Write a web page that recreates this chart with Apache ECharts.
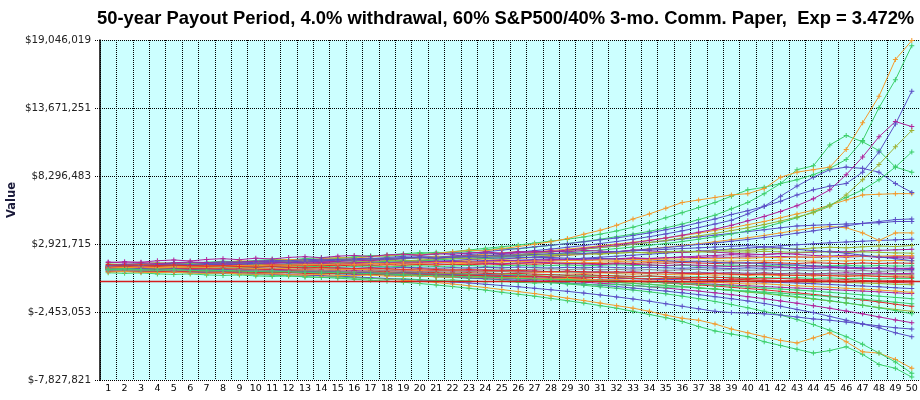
<!DOCTYPE html>
<html>
<head>
<meta charset="utf-8">
<title>50-year Payout Period</title>
<script src="https://cdn.jsdelivr.net/npm/echarts@6/dist/echarts.min.js"></script>
<style>
  html, body { margin: 0; padding: 0; background: #fff; }
  #chart { width: 920px; height: 400px; }
</style>
</head>
<body>
<div id="chart"></div>
<script>
// payout year (x axis categories)
const years = ['1','2','3','4','5','6','7','8','9','10','11','12','13','14','15','16','17','18','19','20',
  '21','22','23','24','25','26','27','28','29','30','31','32','33','34','35','36','37','38','39','40',
  '41','42','43','44','45','46','47','48','49','50'];

// y axis tick values in dollars
const yTicks = [-7827821, -2453053, 2921715, 8296483, 13671251, 19046019];

// portfolio value per run, in $ millions, years 1..50
// upper runs
const up1 = [1.15,1.22,1.30,1.28,1.36,1.45,1.42,1.50,1.58,1.55,1.63,1.70,1.66,1.75,1.84,1.80,1.92,2.01,2.10,2.05,2.18,2.30,2.42,2.38,2.55,2.72,2.90,3.10,3.35,3.70,4.00,4.40,4.90,5.30,5.75,6.20,6.40,6.60,6.80,6.90,7.30,8.20,8.60,8.80,9.00,10.40,12.50,14.60,17.50,19.00];
const up2 = [1.08,1.12,1.20,1.26,1.22,1.30,1.38,1.45,1.41,1.50,1.58,1.66,1.72,1.68,1.78,1.88,1.96,2.05,2.15,2.24,2.20,2.32,2.45,2.58,2.70,2.84,3.00,3.15,3.30,3.48,3.70,3.95,4.25,4.60,5.00,5.40,5.80,6.20,6.70,7.20,7.40,7.70,8.00,8.40,8.90,9.60,11.10,13.70,15.90,18.60];
const up3 = [1.02,1.10,1.05,1.15,1.22,1.18,1.28,1.35,1.30,1.40,1.46,1.42,1.52,1.60,1.68,1.64,1.75,1.85,1.95,2.02,2.12,2.22,2.18,2.30,2.44,2.56,2.70,2.82,2.95,3.10,3.25,3.40,3.60,3.80,4.05,4.30,4.60,4.90,5.25,5.55,5.90,6.30,6.80,7.20,7.50,7.70,8.60,10.20,12.40,15.00];
const up4 = [1.12,1.05,1.14,1.20,1.16,1.24,1.30,1.26,1.35,1.42,1.38,1.46,1.52,1.48,1.56,1.64,1.60,1.70,1.78,1.86,1.82,1.92,2.02,1.98,2.10,2.22,2.34,2.30,2.44,2.58,2.72,2.86,3.02,3.20,3.40,3.62,3.85,4.10,4.40,4.75,5.10,5.50,5.95,6.50,7.20,8.40,9.80,11.40,12.60,12.20];
const up5 = [0.98,1.04,1.00,1.08,1.14,1.10,1.18,1.24,1.20,1.28,1.34,1.30,1.38,1.44,1.40,1.48,1.55,1.62,1.58,1.66,1.74,1.82,1.78,1.88,1.98,2.08,2.18,2.28,2.40,2.52,2.64,2.76,2.90,3.05,3.20,3.38,3.56,3.76,3.98,4.20,4.46,4.74,5.05,5.40,5.90,6.80,8.00,9.20,10.60,11.90];
const up6 = [1.20,1.28,1.24,1.34,1.42,1.38,1.48,1.56,1.52,1.62,1.70,1.66,1.76,1.85,1.80,1.90,2.00,1.95,2.06,2.16,2.26,2.22,2.34,2.46,2.58,2.54,2.68,2.82,2.96,3.12,3.30,3.50,3.70,3.92,4.20,4.50,4.85,5.20,5.70,6.20,6.90,7.70,8.80,9.10,10.75,11.50,11.00,10.30,9.00,8.60];
const up7 = [0.95,1.00,1.06,1.02,1.10,1.16,1.12,1.20,1.26,1.22,1.30,1.36,1.32,1.40,1.46,1.52,1.48,1.56,1.62,1.58,1.66,1.74,1.82,1.78,1.86,1.95,2.04,2.12,2.22,2.32,2.44,2.56,2.68,2.82,2.96,3.12,3.30,3.50,3.72,3.96,4.25,4.60,5.00,5.45,6.00,6.60,7.20,8.00,9.00,10.20];
const up8 = [1.05,1.12,1.08,1.16,1.22,1.30,1.26,1.34,1.40,1.36,1.44,1.50,1.46,1.55,1.62,1.70,1.66,1.75,1.84,1.92,1.88,1.98,2.08,2.20,2.16,2.28,2.40,2.52,2.66,2.80,2.96,3.12,3.30,3.50,3.72,3.96,4.22,4.50,4.80,5.30,5.90,6.70,7.50,8.20,8.80,9.00,8.90,8.60,7.70,7.00];
const up9 = [1.10,1.16,1.12,1.20,1.26,1.22,1.30,1.36,1.42,1.38,1.46,1.52,1.58,1.54,1.62,1.68,1.75,1.70,1.80,1.88,1.96,1.92,2.02,2.12,2.22,2.32,2.28,2.40,2.52,2.64,2.78,2.92,3.06,3.22,3.40,3.58,3.78,4.00,4.20,4.45,4.70,5.00,5.30,5.60,6.00,6.40,6.80,6.85,6.90,6.90];
const up10 = [1.00,1.05,1.10,1.06,1.12,1.18,1.14,1.20,1.25,1.30,1.26,1.32,1.38,1.34,1.40,1.46,1.52,1.48,1.54,1.60,1.66,1.62,1.70,1.78,1.74,1.82,1.90,1.98,2.06,2.14,2.22,2.32,2.42,2.52,2.64,2.76,2.88,3.00,3.14,3.28,3.44,3.60,3.78,3.96,4.15,4.35,4.55,4.70,4.85,4.90];
const up11 = [1.18,1.12,1.20,1.26,1.32,1.28,1.36,1.42,1.38,1.46,1.52,1.48,1.56,1.62,1.58,1.66,1.72,1.68,1.76,1.84,1.80,1.88,1.96,2.04,2.00,2.10,2.20,2.30,2.40,2.52,2.64,2.76,2.90,3.04,3.18,3.32,3.48,3.62,3.76,3.90,4.05,4.20,4.35,4.40,4.45,4.50,4.55,4.60,4.70,4.70];
const up12 = [0.92,0.98,1.04,1.00,1.06,1.12,1.08,1.14,1.20,1.16,1.22,1.28,1.24,1.30,1.36,1.42,1.38,1.44,1.50,1.56,1.52,1.58,1.66,1.74,1.70,1.78,1.86,1.94,2.02,2.10,2.20,2.30,2.42,2.54,2.66,2.80,2.94,3.10,3.26,3.42,3.60,3.80,4.00,4.20,4.30,4.20,3.80,3.20,3.80,3.80];
const up13 = [1.06,1.00,1.06,1.12,1.08,1.14,1.20,1.16,1.22,1.28,1.24,1.30,1.26,1.32,1.38,1.34,1.40,1.46,1.42,1.48,1.54,1.50,1.56,1.62,1.58,1.64,1.70,1.76,1.72,1.80,1.88,1.96,2.04,2.12,2.20,2.28,2.36,2.44,2.52,2.60,2.68,2.78,2.86,2.94,3.02,3.08,3.14,3.20,3.25,3.30];
const up14 = [1.14,1.08,1.02,1.08,1.14,1.10,1.16,1.22,1.18,1.24,1.20,1.26,1.32,1.28,1.34,1.30,1.36,1.42,1.38,1.44,1.40,1.46,1.52,1.48,1.54,1.60,1.56,1.62,1.68,1.64,1.70,1.76,1.82,1.78,1.84,1.90,1.96,2.02,2.08,2.04,2.10,2.16,2.22,2.28,2.34,2.30,2.36,2.42,2.46,2.50];
// middle band runs
const mid1 = [1.20,1.26,1.22,1.30,1.36,1.32,1.40,1.46,1.42,1.50,1.56,1.52,1.60,1.66,1.62,1.70,1.76,1.72,1.80,1.86,1.82,1.90,1.96,2.02,1.98,2.04,2.10,2.06,2.12,2.18,2.14,2.20,2.26,2.22,2.28,2.24,2.30,2.26,2.32,2.28,2.34,2.30,2.26,2.32,2.28,2.24,2.30,2.26,2.22,2.20];
const mid2 = [1.10,1.04,1.10,1.16,1.12,1.18,1.14,1.20,1.26,1.22,1.28,1.24,1.30,1.36,1.32,1.38,1.34,1.40,1.46,1.42,1.48,1.54,1.50,1.56,1.62,1.58,1.64,1.70,1.66,1.72,1.78,1.74,1.80,1.76,1.82,1.88,1.84,1.90,1.86,1.92,1.88,1.94,1.90,1.86,1.92,1.88,1.94,1.90,1.92,1.90];
const mid3 = [0.98,1.04,1.00,1.06,1.02,1.08,1.14,1.10,1.16,1.12,1.18,1.14,1.20,1.16,1.22,1.28,1.24,1.30,1.26,1.32,1.28,1.34,1.40,1.36,1.42,1.38,1.44,1.40,1.46,1.42,1.48,1.54,1.50,1.56,1.52,1.58,1.54,1.60,1.56,1.62,1.58,1.64,1.60,1.56,1.62,1.58,1.64,1.60,1.62,1.60];
const mid4 = [1.16,1.12,1.18,1.14,1.20,1.16,1.22,1.18,1.24,1.20,1.26,1.22,1.18,1.24,1.20,1.26,1.22,1.28,1.24,1.30,1.26,1.32,1.28,1.34,1.30,1.36,1.32,1.38,1.34,1.40,1.36,1.42,1.38,1.44,1.40,1.46,1.42,1.38,1.44,1.40,1.46,1.42,1.38,1.44,1.40,1.36,1.42,1.38,1.42,1.40];
const mid5 = [1.04,1.08,1.02,1.06,1.10,1.04,1.08,1.12,1.06,1.10,1.14,1.08,1.12,1.16,1.10,1.14,1.18,1.12,1.16,1.20,1.14,1.18,1.22,1.16,1.20,1.24,1.18,1.22,1.26,1.20,1.24,1.28,1.22,1.26,1.20,1.24,1.18,1.22,1.26,1.20,1.24,1.18,1.22,1.16,1.20,1.24,1.18,1.22,1.18,1.20];
const mid6 = [1.00,0.96,1.02,0.98,1.04,1.00,0.96,1.02,0.98,1.04,1.00,1.06,1.02,0.98,1.04,1.00,1.06,1.02,1.08,1.04,1.00,1.06,1.02,1.08,1.04,1.10,1.06,1.02,1.08,1.04,1.10,1.06,1.02,1.08,1.04,1.00,1.06,1.02,0.98,1.04,1.00,1.06,1.02,0.98,1.04,1.00,0.96,1.02,0.98,1.00];
const mid7 = [1.08,1.02,1.06,1.00,1.04,0.98,1.02,0.96,1.00,0.94,0.98,0.92,0.96,1.00,0.94,0.98,0.92,0.96,0.90,0.94,0.98,0.92,0.96,0.90,0.94,0.88,0.92,0.96,0.90,0.94,0.88,0.92,0.86,0.90,0.84,0.88,0.92,0.86,0.90,0.84,0.88,0.82,0.86,0.80,0.84,0.78,0.82,0.76,0.80,0.80];
const mid8 = [0.94,0.98,0.92,0.96,0.90,0.94,0.98,0.92,0.96,0.90,0.94,0.88,0.92,0.86,0.90,0.84,0.88,0.82,0.86,0.80,0.84,0.78,0.82,0.76,0.80,0.74,0.78,0.72,0.76,0.70,0.74,0.68,0.72,0.66,0.70,0.64,0.68,0.62,0.66,0.60,0.64,0.58,0.62,0.56,0.60,0.64,0.58,0.62,0.58,0.60];
const mid9 = [1.12,1.06,1.10,1.04,1.08,1.02,1.06,1.00,1.04,0.98,1.02,0.96,0.92,0.96,0.90,0.94,0.88,0.84,0.88,0.82,0.78,0.82,0.76,0.72,0.76,0.70,0.66,0.70,0.64,0.60,0.64,0.58,0.54,0.58,0.52,0.48,0.52,0.46,0.50,0.44,0.48,0.42,0.46,0.40,0.44,0.38,0.42,0.36,0.40,0.40];
const mid10 = [0.90,0.86,0.90,0.84,0.88,0.82,0.86,0.80,0.84,0.78,0.82,0.76,0.72,0.76,0.70,0.74,0.68,0.64,0.68,0.62,0.58,0.62,0.56,0.52,0.56,0.50,0.46,0.50,0.44,0.40,0.44,0.38,0.34,0.38,0.32,0.28,0.32,0.26,0.30,0.24,0.28,0.22,0.26,0.20,0.24,0.18,0.22,0.16,0.20,0.20];
const mid11 = [1.06,1.00,1.04,0.98,0.94,0.98,0.92,0.96,0.90,0.86,0.90,0.84,0.80,0.84,0.78,0.74,0.78,0.72,0.68,0.72,0.66,0.62,0.66,0.60,0.56,0.60,0.54,0.50,0.46,0.50,0.44,0.40,0.36,0.40,0.34,0.30,0.26,0.30,0.24,0.20,0.16,0.20,0.14,0.10,0.06,0.10,0.04,0.00,0.02,0.00];
const mid12 = [0.96,1.00,0.94,0.98,0.92,0.88,0.92,0.86,0.82,0.86,0.80,0.76,0.80,0.74,0.70,0.66,0.70,0.64,0.60,0.56,0.60,0.54,0.50,0.46,0.50,0.44,0.40,0.36,0.32,0.36,0.30,0.26,0.22,0.18,0.22,0.16,0.12,0.08,0.04,0.08,0.02,-0.02,-0.06,-0.10,-0.06,-0.12,-0.16,-0.20,-0.26,-0.30];
const mid13 = [1.00,0.94,0.98,0.92,0.96,0.90,0.86,0.90,0.84,0.80,0.84,0.78,0.74,0.70,0.74,0.68,0.64,0.60,0.64,0.58,0.54,0.50,0.46,0.50,0.44,0.40,0.36,0.32,0.28,0.32,0.26,0.22,0.18,0.14,0.10,0.14,0.08,0.04,0.00,-0.04,-0.08,-0.12,-0.16,-0.22,-0.28,-0.34,-0.40,-0.46,-0.54,-0.60];
const mid14 = [0.92,0.88,0.92,0.86,0.82,0.86,0.80,0.76,0.80,0.74,0.70,0.74,0.68,0.64,0.60,0.64,0.58,0.54,0.50,0.46,0.50,0.44,0.40,0.36,0.32,0.28,0.24,0.20,0.16,0.12,0.08,0.04,0.00,-0.04,-0.08,-0.14,-0.20,-0.26,-0.32,-0.38,-0.44,-0.50,-0.56,-0.62,-0.68,-0.74,-0.80,-0.86,-0.94,-1.00];
const mid15 = [0.88,0.92,0.86,0.82,0.86,0.80,0.76,0.80,0.74,0.70,0.66,0.70,0.64,0.60,0.56,0.60,0.54,0.50,0.46,0.42,0.46,0.40,0.36,0.32,0.28,0.24,0.20,0.16,0.12,0.08,0.04,0.00,-0.04,-0.08,-0.14,-0.20,-0.26,-0.32,-0.40,-0.48,-0.56,-0.64,-0.72,-0.80,-0.90,-1.00,-1.10,-1.20,-1.30,-1.40];
const band1 = [1.45,1.52,1.48,1.60,1.66,1.58,1.70,1.76,1.68,1.80,1.74,1.86,1.92,1.84,1.96,2.02,1.94,2.06,2.12,2.04,2.16,2.10,2.22,2.28,2.20,2.32,2.26,2.38,2.30,2.42,2.36,2.30,2.44,2.38,2.30,2.24,2.36,2.28,2.20,2.14,2.08,2.18,2.10,2.02,1.96,2.04,1.96,1.88,1.84,1.80];
const band2 = [0.65,0.60,0.64,0.56,0.52,0.56,0.48,0.44,0.48,0.40,0.36,0.40,0.32,0.28,0.32,0.24,0.20,0.14,0.18,0.10,0.04,0.08,0.00,-0.06,-0.02,-0.10,-0.16,-0.12,-0.20,-0.26,-0.32,-0.28,-0.36,-0.44,-0.50,-0.46,-0.56,-0.64,-0.72,-0.80,-0.88,-0.96,-1.06,-1.14,-1.24,-1.34,-1.44,-1.56,-1.68,-1.80];
const band3 = [1.35,1.30,1.38,1.44,1.40,1.48,1.42,1.50,1.56,1.50,1.58,1.64,1.58,1.66,1.72,1.66,1.74,1.80,1.74,1.82,1.88,1.84,1.92,1.98,1.92,2.00,2.06,2.02,2.10,2.16,2.12,2.20,2.26,2.22,2.30,2.36,2.32,2.40,2.46,2.42,2.50,2.56,2.52,2.60,2.66,2.62,2.70,2.76,2.72,2.80];
const band4 = [0.75,0.80,0.74,0.78,0.70,0.76,0.72,0.66,0.72,0.68,0.62,0.66,0.60,0.56,0.62,0.58,0.52,0.48,0.54,0.50,0.44,0.40,0.46,0.42,0.36,0.32,0.38,0.34,0.28,0.24,0.30,0.26,0.20,0.16,0.22,0.18,0.12,0.08,0.14,0.10,0.04,0.00,0.06,0.02,-0.04,-0.08,-0.02,-0.06,-0.12,-0.16];
const band5 = [1.25,1.30,1.36,1.32,1.40,1.46,1.44,1.52,1.50,1.58,1.62,1.60,1.68,1.72,1.70,1.76,1.80,1.78,1.84,1.86,1.82,1.88,1.90,1.86,1.92,1.88,1.84,1.86,1.80,1.76,1.78,1.72,1.66,1.68,1.60,1.54,1.56,1.48,1.42,1.44,1.36,1.30,1.26,1.20,1.14,1.10,1.04,0.98,0.94,0.90];
const band6 = [0.70,0.74,0.68,0.66,0.70,0.62,0.60,0.64,0.56,0.54,0.58,0.50,0.48,0.52,0.44,0.42,0.46,0.38,0.36,0.40,0.32,0.30,0.34,0.26,0.24,0.28,0.20,0.16,0.20,0.12,0.08,0.10,0.02,-0.02,0.00,-0.08,-0.12,-0.10,-0.18,-0.24,-0.22,-0.30,-0.38,-0.44,-0.50,-0.58,-0.64,-0.72,-0.80,-0.90];
const band7 = [1.50,1.42,1.46,1.38,1.44,1.50,1.46,1.40,1.48,1.54,1.50,1.44,1.40,1.46,1.52,1.48,1.42,1.38,1.44,1.50,1.56,1.50,1.44,1.40,1.36,1.42,1.48,1.44,1.38,1.34,1.30,1.36,1.32,1.26,1.22,1.28,1.24,1.18,1.14,1.20,1.16,1.10,1.06,1.12,1.08,1.02,0.98,1.04,1.00,1.00];
const band8 = [1.02,1.06,1.10,1.08,1.14,1.12,1.18,1.16,1.22,1.20,1.26,1.24,1.30,1.28,1.34,1.32,1.38,1.36,1.42,1.40,1.46,1.44,1.50,1.48,1.54,1.52,1.58,1.56,1.62,1.60,1.66,1.64,1.70,1.68,1.74,1.72,1.78,1.76,1.82,1.80,1.86,1.84,1.90,1.88,1.94,1.92,1.98,1.96,2.00,2.00];
const band9 = [0.80,0.84,0.78,0.82,0.86,0.80,0.76,0.82,0.88,0.84,0.80,0.76,0.80,0.84,0.78,0.74,0.78,0.82,0.76,0.72,0.76,0.80,0.74,0.70,0.74,0.68,0.72,0.76,0.70,0.66,0.70,0.64,0.68,0.62,0.66,0.60,0.64,0.58,0.62,0.56,0.60,0.54,0.58,0.52,0.56,0.50,0.54,0.48,0.52,0.50];
const band10 = [1.18,1.24,1.20,1.28,1.34,1.30,1.38,1.44,1.40,1.48,1.54,1.50,1.58,1.64,1.60,1.68,1.74,1.70,1.78,1.84,1.80,1.88,1.94,2.00,2.06,2.02,2.10,2.16,2.22,2.18,2.26,2.32,2.38,2.44,2.50,2.56,2.62,2.68,2.74,2.80,2.70,2.60,2.50,2.40,2.30,2.20,2.04,1.90,1.76,1.60];
const band11 = [0.92,0.96,0.90,0.86,0.90,0.84,0.80,0.84,0.78,0.74,0.78,0.72,0.68,0.64,0.68,0.62,0.58,0.54,0.50,0.46,0.42,0.38,0.34,0.30,0.26,0.20,0.16,0.10,0.06,0.00,-0.06,-0.12,-0.20,-0.28,-0.36,-0.44,-0.54,-0.64,-0.74,-0.84,-0.96,-1.10,-1.24,-1.40,-1.56,-1.74,-1.92,-2.12,-2.34,-2.60];
const band12 = [1.30,1.24,1.28,1.22,1.26,1.20,1.16,1.20,1.14,1.10,1.14,1.08,1.04,1.08,1.02,0.98,1.02,0.96,0.92,0.96,0.90,0.86,0.90,0.84,0.80,0.84,0.78,0.74,0.78,0.72,0.68,0.72,0.66,0.62,0.66,0.60,0.56,0.60,0.54,0.50,0.54,0.48,0.44,0.48,0.42,0.38,0.42,0.36,0.32,0.30];
// lower runs
const low1 = [0.82,0.78,0.74,0.70,0.72,0.66,0.60,0.62,0.56,0.50,0.46,0.40,0.34,0.28,0.22,0.14,0.06,-0.02,-0.10,-0.20,-0.32,-0.44,-0.58,-0.72,-0.90,-1.05,-1.20,-1.38,-1.56,-1.75,-1.95,-2.15,-2.40,-2.65,-2.90,-3.20,-3.60,-3.95,-4.20,-4.40,-4.80,-5.10,-5.40,-5.70,-5.50,-5.20,-5.80,-6.60,-6.90,-7.60];
const low2 = [0.88,0.84,0.86,0.80,0.76,0.78,0.72,0.68,0.64,0.60,0.56,0.50,0.46,0.40,0.34,0.28,0.22,0.14,0.06,-0.02,-0.12,-0.24,-0.38,-0.52,-0.68,-0.84,-1.00,-1.18,-1.36,-1.55,-1.75,-1.95,-2.15,-2.40,-2.70,-2.95,-3.10,-3.40,-3.80,-4.10,-4.40,-4.70,-4.90,-4.50,-4.10,-4.80,-5.60,-5.70,-6.20,-6.90];
const low3 = [1.05,1.00,0.96,0.98,0.92,0.88,0.90,0.84,0.80,0.82,0.76,0.72,0.74,0.68,0.64,0.60,0.56,0.50,0.46,0.40,0.34,0.28,0.22,0.16,0.10,0.02,-0.06,-0.14,-0.24,-0.34,-0.46,-0.58,-0.72,-0.86,-1.02,-1.20,-1.40,-1.62,-1.86,-2.12,-2.40,-2.70,-3.05,-3.45,-3.90,-4.40,-5.00,-5.70,-6.40,-7.30];
const low4 = [0.90,0.94,0.88,0.84,0.86,0.80,0.76,0.78,0.72,0.74,0.68,0.64,0.66,0.60,0.56,0.52,0.54,0.48,0.44,0.40,0.36,0.30,0.24,0.18,0.12,0.06,0.00,-0.08,-0.16,-0.24,-0.34,-0.44,-0.56,-0.68,-0.80,-0.94,-1.08,-1.24,-1.40,-1.58,-1.78,-2.00,-2.25,-2.50,-2.80,-3.10,-3.40,-3.70,-4.10,-4.40];
const low5 = [0.96,0.92,0.96,0.90,0.86,0.88,0.84,0.86,0.80,0.76,0.78,0.72,0.68,0.70,0.64,0.60,0.62,0.56,0.52,0.48,0.44,0.40,0.34,0.28,0.22,0.16,0.10,0.04,-0.02,-0.10,-0.18,-0.26,-0.36,-0.46,-0.56,-0.68,-0.80,-0.94,-1.08,-1.24,-1.40,-1.58,-1.76,-1.96,-2.16,-2.38,-2.60,-2.84,-3.08,-3.30];
const low6 = [0.86,0.82,0.78,0.80,0.74,0.70,0.66,0.62,0.64,0.58,0.54,0.50,0.46,0.42,0.38,0.32,0.26,0.20,0.14,0.08,0.00,-0.08,-0.16,-0.26,-0.36,-0.46,-0.58,-0.70,-0.82,-0.96,-1.10,-1.26,-1.42,-1.60,-1.80,-2.00,-2.20,-2.40,-2.50,-2.55,-2.60,-2.70,-2.85,-3.00,-3.10,-3.25,-3.40,-3.55,-3.70,-3.80];
const low7 = [0.94,0.98,0.92,0.96,0.90,0.94,0.88,0.84,0.88,0.82,0.78,0.80,0.74,0.70,0.72,0.66,0.62,0.58,0.60,0.54,0.50,0.46,0.42,0.38,0.34,0.28,0.22,0.16,0.10,0.04,-0.02,-0.10,-0.18,-0.26,-0.34,-0.44,-0.54,-0.64,-0.76,-0.88,-1.00,-1.14,-1.28,-1.42,-1.58,-1.74,-1.92,-2.10,-2.25,-2.40];
const low8 = [1.02,0.98,1.02,0.96,1.00,0.94,0.98,0.92,0.88,0.92,0.86,0.82,0.86,0.80,0.76,0.78,0.72,0.68,0.70,0.64,0.60,0.56,0.52,0.48,0.44,0.40,0.34,0.28,0.22,0.16,0.10,0.04,-0.02,-0.08,-0.16,-0.24,-0.32,-0.40,-0.50,-0.60,-0.70,-0.82,-0.94,-1.06,-1.20,-1.34,-1.50,-1.66,-1.84,-2.00];

const runs = [low1, low2, low3, low4, low5, low6, low7, low8,
  up14, up13, up12, up11, up10, up9, up8, up7, up6, up5, up4, up3, up2, up1,
  mid1, mid2, mid3, mid4, mid5, mid6, mid7, mid8, mid9, mid10, mid11, mid12, mid13, mid14, mid15,
  band1, band2, band3, band4, band5, band6, band7, band8, band9, band10, band11, band12];

// line colours, same order as runs
const ORANGE = '#f39a2c', GREEN = '#3ccf6a', PURPLE = '#5b4ec6', MAGENTA = '#b0229c',
      OLIVE = '#9fb233', RED = '#e22a2a', GRAY = '#8c8c8c';
const runColors = [GREEN, ORANGE, GREEN, PURPLE, MAGENTA, PURPLE, OLIVE, RED,
  MAGENTA, PURPLE, ORANGE, PURPLE, PURPLE, ORANGE, PURPLE, GREEN, GREEN, OLIVE, MAGENTA, PURPLE, GREEN, ORANGE,
  OLIVE, MAGENTA, ORANGE, RED, GREEN, PURPLE, GRAY, MAGENTA, ORANGE, GREEN, RED, OLIVE, PURPLE, MAGENTA, GREEN,
  MAGENTA, GREEN, OLIVE, RED, PURPLE, ORANGE, MAGENTA, ORANGE, GRAY, PURPLE, GREEN, RED];

// the axis runs from 0 so the ticks land on the labelled values; labels add Y_MIN back
const Y_MIN = yTicks[0];
const Y_MAX = yTicks[yTicks.length - 1];
const Y_STEP = yTicks[1] - yTicks[0];
const toAxis = v => v * 1e6 - Y_MIN;

const crossSymbol = 'path://M2,0H3V2H5V3H3V5H2V3H0V2H2Z';
const ZERO_RED = '#d41e1e';

const series = runs.map((run, i) => ({
  type: 'line',
  data: run.map(toAxis),
  symbol: crossSymbol,
  symbolSize: 5,
  showSymbol: true,
  lineStyle: { width: 1, color: runColors[i] },
  itemStyle: { color: runColors[i] },
  emphasis: { disabled: true },
  silent: true
}));

// red zero line
series[series.length - 1].markLine = {
  silent: true,
  symbol: 'none',
  label: { show: false },
  itemStyle: { color: ZERO_RED },
  lineStyle: { color: ZERO_RED, type: 'solid', width: 1.3, opacity: 1 },
  emphasis: { disabled: true },
  data: [{ yAxis: toAxis(0) }]
};

const chart = echarts.init(document.getElementById('chart'));
chart.setOption({
  animation: false,
  backgroundColor: '#ffffff',
  title: {
    text: '50-year Payout Period, 4.0% withdrawal, 60% S&P500/40% 3-mo. Comm. Paper,  Exp = 3.472%',
    left: 92,
    top: 5,
    textStyle: { fontFamily: 'Liberation Sans', fontSize: 18.4, fontWeight: 'bold', color: '#000' }
  },
  grid: {
    left: 100, right: 0, top: 40, bottom: 20,
    outerBoundsMode: 'none',
    containLabel: false,
    show: true, backgroundColor: '#ccffff', borderWidth: 0
  },
  xAxis: {
    type: 'category',
    data: years,
    boundaryGap: true,
    axisLine: { show: false, onZero: false },
    axisTick: { show: false },
    axisLabel: { interval: 0, margin: 4, fontFamily: 'DejaVu Sans', fontSize: 9.5, color: '#000' },
    splitLine: { show: true, interval: 0, lineStyle: { type: 'dotted', color: '#000', width: 1 } }
  },
  yAxis: {
    type: 'value',
    min: 0,
    max: Y_MAX - Y_MIN,
    interval: Y_STEP,
    name: 'Value',
    nameLocation: 'middle',
    nameGap: 82,
    nameMoveOverlap: false,
    nameRotate: 90,
    nameTextStyle: { fontFamily: 'DejaVu Sans', fontSize: 11.5, fontWeight: 'bold', color: '#1a1a3a', padding: [0, 0, 0, 20] },
    axisLine: { show: true, lineStyle: { color: '#000', width: 1.5 } },
    axisTick: { show: true, length: 5, lineStyle: { type: 'dotted', color: '#000' } },
    axisLabel: {
      margin: 9,
      fontFamily: 'DejaVu Sans', fontSize: 10.4, color: '#222',
      formatter: v => '$' + Math.round(v + Y_MIN).toLocaleString('en-US')
    },
    splitLine: { show: true, lineStyle: { type: 'dotted', color: '#000', width: 1 } }
  },
  series: series
});
</script>
</body>
</html>
